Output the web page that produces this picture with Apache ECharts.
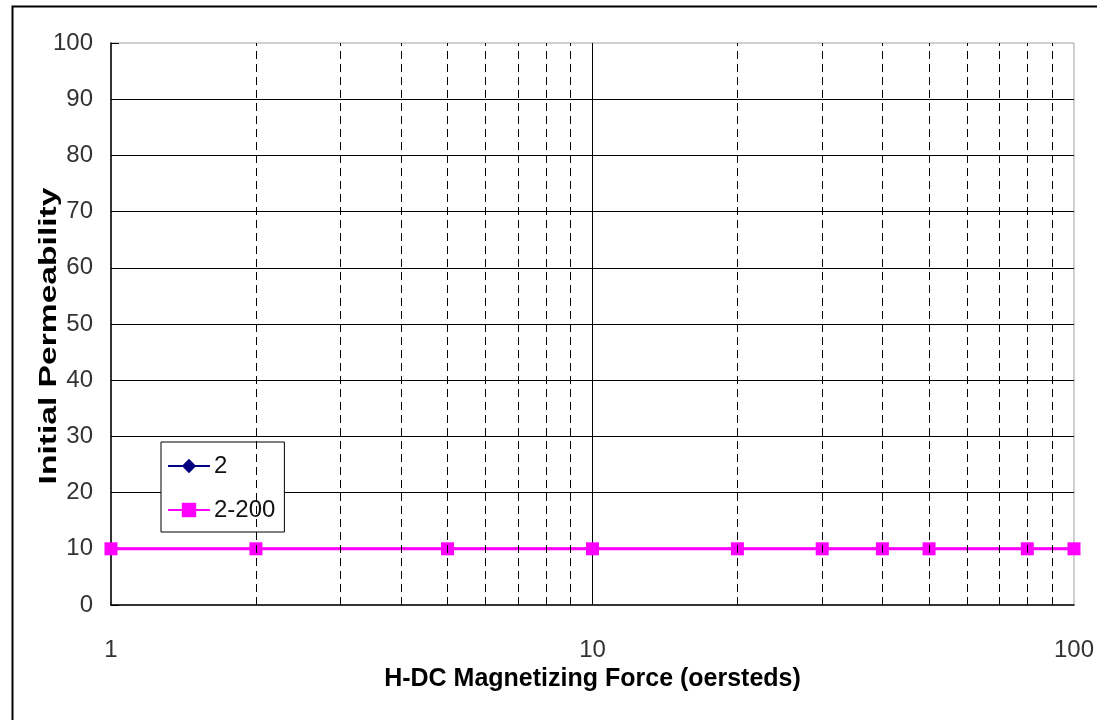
<!DOCTYPE html>
<html>
<head>
<meta charset="utf-8">
<title>Initial Permeability vs H-DC Magnetizing Force</title>
<script src="https://cdn.jsdelivr.net/npm/echarts@6/dist/echarts.min.js"></script>
<style>
  html, body { margin: 0; padding: 0; background: #fff; }
  #chart { width: 1097px; height: 720px; }
</style>
</head>
<body>
<div id="chart"></div>
<script>
// Magnetizing force (oersteds) at each measured point
const forceOe = [1, 2, 5, 10, 20, 30, 40, 50, 80, 100];
// Initial permeability for each grade
const perm2 = [10, 10, 10, 10, 10, 10, 10, 10, 10, 10];
const perm2to200 = [10, 10, 10, 10, 10, 10, 10, 10, 10, 10];
// Intermediate decade lines on the log axis
const minorForce = [2, 3, 4, 5, 6, 7, 8, 9, 20, 30, 40, 50, 60, 70, 80, 90];

const FONT = '"Liberation Sans", Arial, sans-serif';

const chart = echarts.init(document.getElementById('chart'));

chart.setOption({
  backgroundColor: '#ffffff',
  animation: false,
  graphic: [
    {
      // outer frame
      type: 'rect',
      left: 10, top: 4,
      shape: { width: 1120, height: 740 },
      style: { fill: 'none', stroke: '#000', lineWidth: 2 },
      silent: true, z: -1
    },
    {
      // vertical axis title, widened along its baseline
      type: 'text',
      x: 49, y: 336,
      rotation: Math.PI / 2,
      scaleX: 1.4,
      style: {
        text: 'Initial Permeability',
        font: 'bold 24px ' + FONT,
        fill: '#000',
        align: 'center',
        verticalAlign: 'middle'
      },
      silent: true
    }
  ],
  grid: {
    left: 111, right: 19, top: 43, bottom: 115,
    show: true, borderColor: '#a0a0a0', borderWidth: 1,
    backgroundColor: 'transparent'
  },
  legend: {
    orient: 'vertical',
    left: 161, top: 442,
    padding: [12, 9, 10, 6],
    itemGap: 20,
    itemWidth: 42, itemHeight: 18,
    backgroundColor: '#fff',
    borderColor: '#000', borderWidth: 1, borderRadius: 0,
    textStyle: { fontFamily: FONT, fontSize: 24, color: '#111', padding: [0, 0, 0, -1] },
    data: ['2', '2-200']
  },
  xAxis: {
    type: 'log', logBase: 10, min: 1, max: 100,
    name: 'H-DC Magnetizing Force (oersteds)',
    nameLocation: 'middle', nameGap: 61,
    nameTextStyle: { fontFamily: FONT, fontSize: 25, fontWeight: 'bold', color: '#000' },
    axisLine: { show: true, lineStyle: { color: '#000', width: 1.5 } },
    axisTick: { show: false },
    axisLabel: { margin: 33, fontFamily: FONT, fontSize: 24, color: '#333' },
    splitLine: { show: true, showMinLine: false, showMaxLine: false, lineStyle: { color: '#000', width: 1 } }
  },
  yAxis: {
    type: 'value', min: 0, max: 100, interval: 10,
    axisLine: { show: true, lineStyle: { color: '#000', width: 1.5 } },
    axisTick: { show: true, inside: true, length: 8, lineStyle: { color: '#000' } },
    axisLabel: { margin: 18, fontFamily: FONT, fontSize: 24, color: '#333' },
    splitLine: { show: true, showMinLine: false, showMaxLine: false, lineStyle: { color: '#000', width: 1 } }
  },
  series: [
    {
      name: '2',
      type: 'line',
      data: forceOe.map((x, i) => [x, perm2[i]]),
      symbol: 'diamond', symbolSize: 12,
      lineStyle: { color: '#000080', width: 2 },
      itemStyle: { color: '#000080' },
      z: 2,
      markLine: {
        silent: true,
        symbol: ['none', 'none'],
        label: { show: false },
        lineStyle: { color: '#000', width: 1, type: [8, 5] },
        data: minorForce.map(v => ({ xAxis: v }))
      }
    },
    {
      name: '2-200',
      type: 'line',
      data: forceOe.map((x, i) => [x, perm2to200[i]]),
      symbol: 'rect', symbolSize: 13,
      lineStyle: { color: '#ff00ff', width: 3 },
      itemStyle: { color: '#ff00ff' },
      z: 4
    }
  ]
});
</script>
</body>
</html>
